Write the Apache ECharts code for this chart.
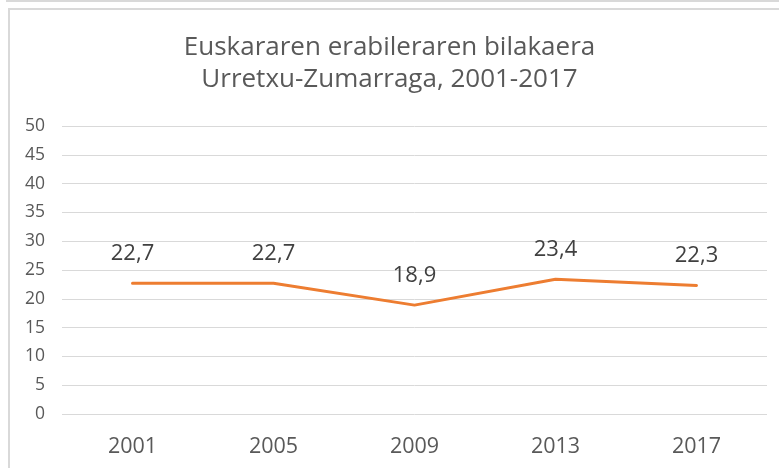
<!DOCTYPE html>
<html>
<head>
<meta charset="utf-8">
<script src="https://cdn.jsdelivr.net/npm/echarts@6/dist/echarts.min.js"></script>
<style>
  html, body { margin: 0; padding: 0; background: #fff; }
  #topline { position: absolute; left: 6px; top: -10px; width: 800px; height: 12px; border-left: 2px solid #d9d9d9; border-bottom: 2px solid #d9d9d9; box-sizing: border-box; }
  #frame { position: absolute; left: 8px; top: 8px; width: 800px; height: 500px; border-left: 2px solid #d9d9d9; border-top: 2px solid #d9d9d9; box-sizing: border-box; }
  #chart { position: absolute; left: 0; top: 0; width: 779px; height: 468px; }
</style>
</head>
<body>
<div id="topline"></div>
<div id="frame"></div>
<div id="chart"></div>
<script>
const titleLines = ['Euskararen erabileraren bilakaera', 'Urretxu-Zumarraga, 2001-2017'];
const years = ['2001', '2005', '2009', '2013', '2017'];
const usage = [22.7, 22.7, 18.9, 23.4, 22.3];
const yMin = 0, yMax = 50, yStep = 5;

const chart = echarts.init(document.getElementById('chart'), null, { renderer: 'canvas' });
chart.setOption({
  backgroundColor: 'transparent',
  animation: false,
  textStyle: { fontFamily: 'Open Sans' },
  title: {
    text: titleLines.join('\n'),
    left: 'center',
    top: 27,
    textStyle: { fontFamily: 'Open Sans', fontSize: 26, fontWeight: 'normal', color: '#595959', lineHeight: 32 }
  },
  grid: { left: 62, right: 12, top: 126, bottom: 54, containLabel: false },
  xAxis: {
    type: 'category',
    data: years,
    boundaryGap: true,
    axisLine: { show: false },
    axisTick: { show: false },
    axisLabel: { fontFamily: 'Open Sans', fontSize: 21.5, color: '#595959', margin: 22 }
  },
  yAxis: {
    type: 'value',
    min: yMin, max: yMax, interval: yStep,
    axisLine: { show: false },
    axisTick: { show: false },
    splitLine: { lineStyle: { color: '#d9d9d9', width: 1 } },
    axisLabel: { fontFamily: 'Open Sans', fontSize: 17.5, color: '#595959', margin: 17 }
  },
  series: [{
    type: 'line',
    data: usage,
    symbol: 'circle',
    symbolSize: 1,
    showSymbol: true,
    lineStyle: { color: '#ED7D31', width: 3, cap: 'round' },
    itemStyle: { color: '#ED7D31' },
    label: {
      show: true,
      position: 'top',
      distance: 18,
      fontFamily: 'Open Sans',
      fontSize: 22,
      color: '#404040',
      formatter: p => String(p.value).replace('.', ',')
    }
  }]
});
</script>
</body>
</html>
